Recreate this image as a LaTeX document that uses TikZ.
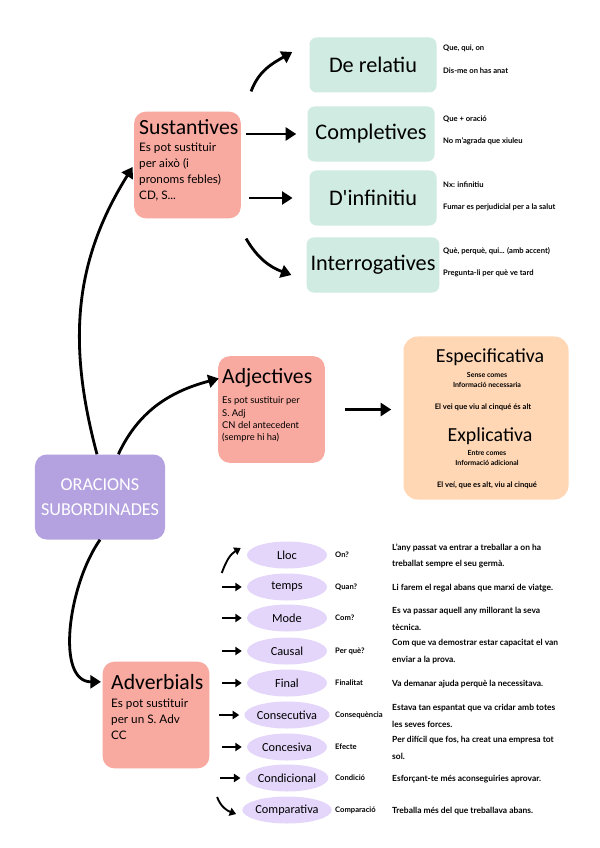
\documentclass[tikz,border=0pt]{standalone}
\usepackage{fontspec}
\setmainfont{Lato}
\newfontfamily\handfont{Carlito}
\usetikzlibrary{positioning}
\usetikzlibrary{shapes.geometric, arrows.meta}

\definecolor{lilac}{HTML}{B4A2E0}
\definecolor{salmon}{HTML}{F8A9A0}
\definecolor{mint}{HTML}{CFEBE2}
\definecolor{peach}{HTML}{FFD7B5}
\definecolor{lavender}{HTML}{E3D6FA}

\tikzset{
  mainbox/.style={fill=lilac, rounded corners=10pt, minimum width=3.9cm, minimum height=2.55cm,
    align=center, text=white, font=\handfont\fontsize{15.5}{21}\selectfont},
  groupbox/.style={fill=salmon, rounded corners=10pt, minimum width=3.2cm, minimum height=3.2cm},
  grouptitle/.style={font=\handfont\fontsize{18.5}{18}\selectfont, inner sep=0pt, anchor=north west},
  groupbody/.style={font=\fontsize{10}{13.6}\selectfont, align=left, inner sep=0pt},
  kindbox/.style={fill=mint, rounded corners=6pt, minimum width=3.81cm, minimum height=1.65cm,
    font=\handfont\fontsize{19}{19}\selectfont},
  relbox/.style={fill=peach, rounded corners=12pt, minimum width=4.95cm, minimum height=4.89cm},
  reltitle/.style={font=\handfont\fontsize{17}{17}\selectfont, inner sep=0pt},
  relnote/.style={font=\bfseries\fontsize{6}{8.5}\selectfont, align=center, inner sep=0pt},
  note/.style={font=\bfseries\fontsize{6.5}{8}\selectfont, anchor=west, inner sep=0pt},
  ellip/.style={ellipse, fill=lavender, minimum width=2.4cm, minimum height=0.81cm, inner sep=0pt,
    font=\handfont\fontsize{10.5}{11}\selectfont},
  ask/.style={font=\bfseries\fontsize{6.5}{7}\selectfont, anchor=west, inner sep=0pt},
  sample/.style={font=\bfseries\fontsize{7.2}{14.5}\selectfont, anchor=west, align=left, inner sep=0pt},
  bigarrow/.style={line width=2.4pt, -{Triangle[length=9pt,width=11pt]}},
  smallarrow/.style={line width=1.6pt, -{Triangle[length=5.5pt,width=7pt]}},
}

\begin{document}
\begin{tikzpicture}[x=0.03cm,y=0.03cm]
\useasboundingbox[fill=white] (0,0) rectangle (600,-848);

% centre
\node[mainbox] (orac) at (100,-497) {ORACIONS\\SUBORDINADES};

% sustantives
\node[groupbox] (sust) at (187.5,-165) {};
\node[grouptitle] (sustt) at (139,-119) {Sustantives};
\node[groupbody, below=7pt of sustt.south west, anchor=north west] (sustb) {Es pot sustituir\\per això (i\\pronoms febles)\\CD, S...};

\node[kindbox] (rel) at (373,-65) {De relatiu};
\node[kindbox] (comp) at (371,-134) {Completives};
\node[kindbox] (inf) at (373,-198) {D'infinitiu};
\node[kindbox] (inter) at (373,-265) {Interrogatives};

\node[note] (rel1) at (443,-48) {Que, qui, on};
\node[note] (rel2) at (443,-71) {Dis-me on has anat};
\node[note] (comp1) at (443,-119) {Que + oració};
\node[note] (comp2) at (443,-141) {No m'agrada que xiuleu};
\node[note] (inf1) at (443,-185) {Nx: infinitiu};
\node[note] (inf2) at (443,-207) {Fumar es perjudicial per a la salut};
\node[note] (inter1) at (443,-251) {Què, perquè, qui... (amb accent)};
\node[note] (inter2) at (443,-273) {Pregunta-li per què ve tard};

\draw[bigarrow] ([shift={(10,20)}]sust.north east) to[out=70,in=210] ([shift={(-17,13)}]rel.west);
\draw[bigarrow, shorten <=0.15cm, shorten >=0.33cm] (sust.east |- comp.west) -- (comp.west);
\draw[bigarrow, shorten <=0.24cm, shorten >=0.5cm] (sust.east |- inf.west) -- (inf.west);
\draw[bigarrow] ([shift={(5,-20)}]sust.south east) to[out=-60,in=160] ([shift={(-15,-10)}]inter.west);

% adjectives
\node[groupbox] (adj) at (271.5,-409.5) {};
\node[grouptitle] (adjt) at (222,-368) {Adjectives};
\node[groupbody, font=\fontsize{8}{10.5}\selectfont, below=8pt of adjt.south west, anchor=north west] (adjb) {Es pot sustituir per\\S. Adj\\CN del antecedent\\(sempre hi ha)};

\node[relbox] (kinds) at (486,-418) {};
\node[reltitle] (spec) at (490,-357) {Especificativa};
\node[relnote] (spec1) at (487,-380) {Sense comes\\Informació necessaria};
\node[note, anchor=center] (spec2) at (483,-407) {El vei que viu al cinqué és alt};
\node[reltitle] (expl) at (490,-436) {Explicativa};
\node[relnote] (expl1) at (487,-458) {Entre comes\\Informació adicional};
\node[note, anchor=center] (expl2) at (487,-485) {El veí, que es alt, viu al cinqué};

\draw[bigarrow, shorten <=0.6cm, shorten >=0.36cm] (adj.east) -- (adj.east -| kinds.west);

% adverbials
\node[groupbox] (adv) at (156,-715) {};
\node[grouptitle] (advt) at (111,-674) {Adverbials};
\node[groupbody, below=8pt of advt.south west, anchor=north west] (advb) {Es pot sustituir\\per un S. Adv\\CC};

\foreach \n/\t/\y/\q/\s in {
  lloc/Lloc/555/On?/{L'any passat va entrar a treballar a on ha\\treballat sempre el seu germà.},
  temps/temps/587/Quan?/{Li farem el regal abans que marxi de viatge.},
  mode/Mode/618/Com?/{Es va passar aquell any millorant la seva\\tècnica.},
  causal/Causal/651/Per què?/{Com que va demostrar estar capacitat el van\\enviar a la prova.},
  final/Final/683/Finalitat/{Va demanar ajuda perquè la necessitava.},
  consec/Consecutiva/715/Consequència/{Estava tan espantat que va cridar amb totes\\les seves forces.},
  conces/Concesiva/747/Efecte/{Per difícil que fos, ha creat una empresa tot\\sol.},
  condic/Condicional/778/Condició/{Esforçant-te més aconseguiries aprovar.},
  compar/Comparativa/810/Comparació/{Treballa més del que treballava abans.}}
{
  \node[ellip] (\n) at (287,-\y) {\t};
  \node[ask] (\n-q) at (335,-\y) {\q};
  \node[sample] (\n-ex) at (392,-\y-1) {\s};
}

\foreach \n in {temps,mode,causal,final,consec,conces,condic}
  \draw[smallarrow] ([shift={(-25,0)}]\n.west) -- ([shift={(-5,0)}]\n.west);
\draw[smallarrow] ([shift={(-25,-18)}]lloc.west) to[out=70,in=210] ([shift={(-6,7)}]lloc.west);
\draw[smallarrow] ([shift={(-25,13)}]compar.west) to[out=-70,in=160] ([shift={(-6,-4)}]compar.west);

% from the centre
\draw[bigarrow, shorten >=2pt] ([xshift=-0.09cm]orac.north) to[out=105,in=238] (sust.west);
\draw[bigarrow, shorten >=0.1cm] ([xshift=0.55cm]orac.north) to[out=65,in=195] (adjt.west);
\draw[bigarrow, shorten >=0.3cm] (orac.south) to[out=235,in=180] (advt.west);
\end{tikzpicture}
\end{document}
